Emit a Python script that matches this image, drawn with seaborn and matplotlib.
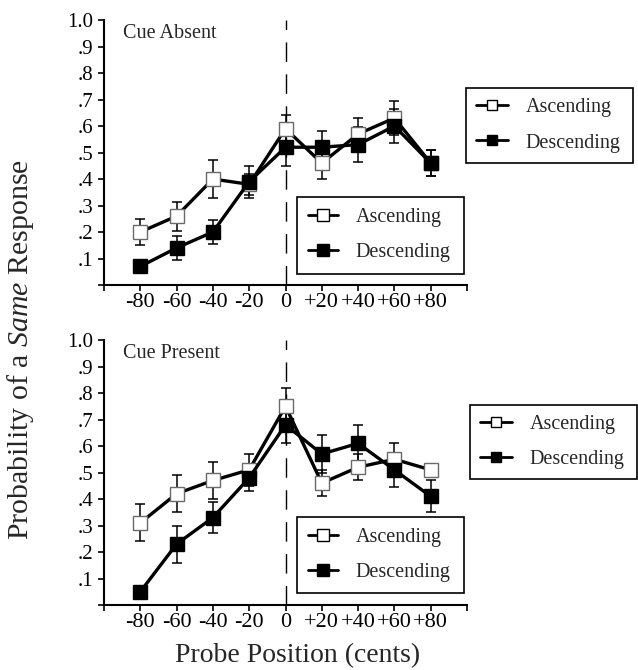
import matplotlib
matplotlib.use('Agg')
import matplotlib.pyplot as plt
from matplotlib.lines import Line2D
import seaborn as sns
import pandas as pd

# probe positions (cents) and tick labels
positions = [-80, -60, -40, -20, 0, 20, 40, 60, 80]
tick_pos = [-100, -80, -60, -40, -20, 0, 20, 40, 60, 80, 100]
tick_labels = ["", "-80", "-60", "-40", "-20", "0", "+20", "+40", "+60", "+80", ""]
ytick_pos = [0, .1, .2, .3, .4, .5, .6, .7, .8, .9, 1.0]
ytick_labels = ["", ".1", ".2", ".3", ".4", ".5", ".6", ".7", ".8", ".9", "1.0"]

# Cue Absent
absent_asc = [.20, .26, .40, .38, .59, .46, .57, .63, .46]
absent_asc_se = [.05, .055, .07, .04, .05, .06, .06, .065, .05]
absent_desc = [.07, .14, .20, .39, .52, .52, .53, .60, .46]
absent_desc_se = [.015, .045, .045, .06, .07, .06, .065, .065, .05]

# Cue Present
present_asc = [.31, .42, .47, .51, .75, .46, .52, .55, .51]
present_asc_se = [.07, .07, .07, .06, .07, .05, .05, .06, .02]
present_desc = [.05, .23, .33, .48, .68, .57, .61, .51, .41]
present_desc_se = [.01, .07, .06, .05, .07, .07, .07, .065, .06]

sns.set_style("ticks")
plt.rcParams['font.family'] = ['Liberation Serif', 'DejaVu Serif']
plt.rcParams['mathtext.fontset'] = 'custom'
plt.rcParams['mathtext.rm'] = 'Liberation Serif'
plt.rcParams['mathtext.it'] = 'Liberation Serif:italic'

fig = plt.figure(figsize=(6.38, 6.70), dpi=100)
ax_top = fig.add_axes([0.163, 0.5746, 0.569, 0.3955])
ax_bot = fig.add_axes([0.163, 0.097, 0.569, 0.3955])


def legend_handles(msize):
    asc = Line2D([], [], color='black', lw=2, marker='s', markersize=msize,
                 markerfacecolor='white', markeredgecolor='black', markeredgewidth=1)
    desc = Line2D([], [], color='black', lw=2, marker='s', markersize=msize,
                  markerfacecolor='black', markeredgecolor='black')
    return [asc, desc], ["Ascending", "Descending"]


def draw_panel(ax, asc, asc_se, desc, desc_se, title, outer_box):
    df = pd.DataFrame({
        "position": positions * 2,
        "prob": asc + desc,
        "se": asc_se + desc_se,
        "direction": ["Ascending"] * len(positions) + ["Descending"] * len(positions),
    })
    ax.axvline(0, color='black', lw=1, dashes=(14, 9), zorder=1)

    for name, face, edge in [("Ascending", "white", "#6a6a6a"), ("Descending", "black", "black")]:
        sub = df[df.direction == name]
        ax.errorbar(sub.position, sub.prob, yerr=sub.se, fmt='none', ecolor='black',
                    elinewidth=1.1, capsize=3.5, capthick=1.1, zorder=2)
        sns.lineplot(data=sub, x="position", y="prob", ax=ax, color='black', lw=2.4,
                     marker='s', markersize=10, markerfacecolor=face,
                     markeredgecolor=edge, markeredgewidth=1, zorder=3)

    ax.set_xlim(-100, 100)
    ax.set_ylim(0, 1.0)
    ax.set_xticks(tick_pos)
    ax.set_xticklabels(tick_labels)
    ax.set_yticks(ytick_pos)
    ax.set_yticklabels(ytick_labels)
    ax.tick_params(axis='both', labelsize=15, width=1.2, length=4, colors='black')
    ax.tick_params(axis='x', labelsize=16, pad=2)
    ax.set_xlabel("")
    ax.set_ylabel("")
    for s in ['top', 'right']:
        ax.spines[s].set_visible(False)
    for s in ['left', 'bottom']:
        ax.spines[s].set_linewidth(1.5)
        ax.spines[s].set_color('black')

    ax.text(0.052, 0.985, title, transform=ax.transAxes, ha='left', va='top', fontsize=14.5)

    handles, labels = legend_handles(9)
    inner = ax.legend(handles, labels, loc='upper left', bbox_to_anchor=(0.532, 0.045, 0.46, 0.287),
                      mode='expand', borderaxespad=0, fontsize=14.5, handlelength=1.5,
                      handletextpad=0.85, labelspacing=0.8, borderpad=0.55,
                      fancybox=False, edgecolor='black', framealpha=1)
    inner.get_frame().set_linewidth(1.2)
    ax.add_artist(inner)

    handles, labels = legend_handles(7)
    outer = ax.legend(handles, labels, loc='upper left', bbox_to_anchor=outer_box,
                      mode='expand', borderaxespad=0, fontsize=14.5, handlelength=1.6,
                      handletextpad=0.85, labelspacing=0.8, borderpad=0.5,
                      fancybox=False, edgecolor='black', framealpha=1)
    outer.get_frame().set_linewidth(1.2)


draw_panel(ax_top, absent_asc, absent_asc_se, absent_desc, absent_desc_se,
           "Cue Absent", (0.997, 0.472, 0.46, 0.271))
draw_panel(ax_bot, present_asc, present_asc_se, present_desc, present_desc_se,
           "Cue Present", (1.008, 0.464, 0.46, 0.291))

fig.text(0.032, 0.478, r"Probability of a $\mathit{Same}$ Response", rotation=90,
         ha='center', va='center', fontsize=21.5)
fig.text(0.467, 0.022, "Probe Position (cents)", ha='center', va='center', fontsize=20)

fig.savefig("out.png", dpi=100)
